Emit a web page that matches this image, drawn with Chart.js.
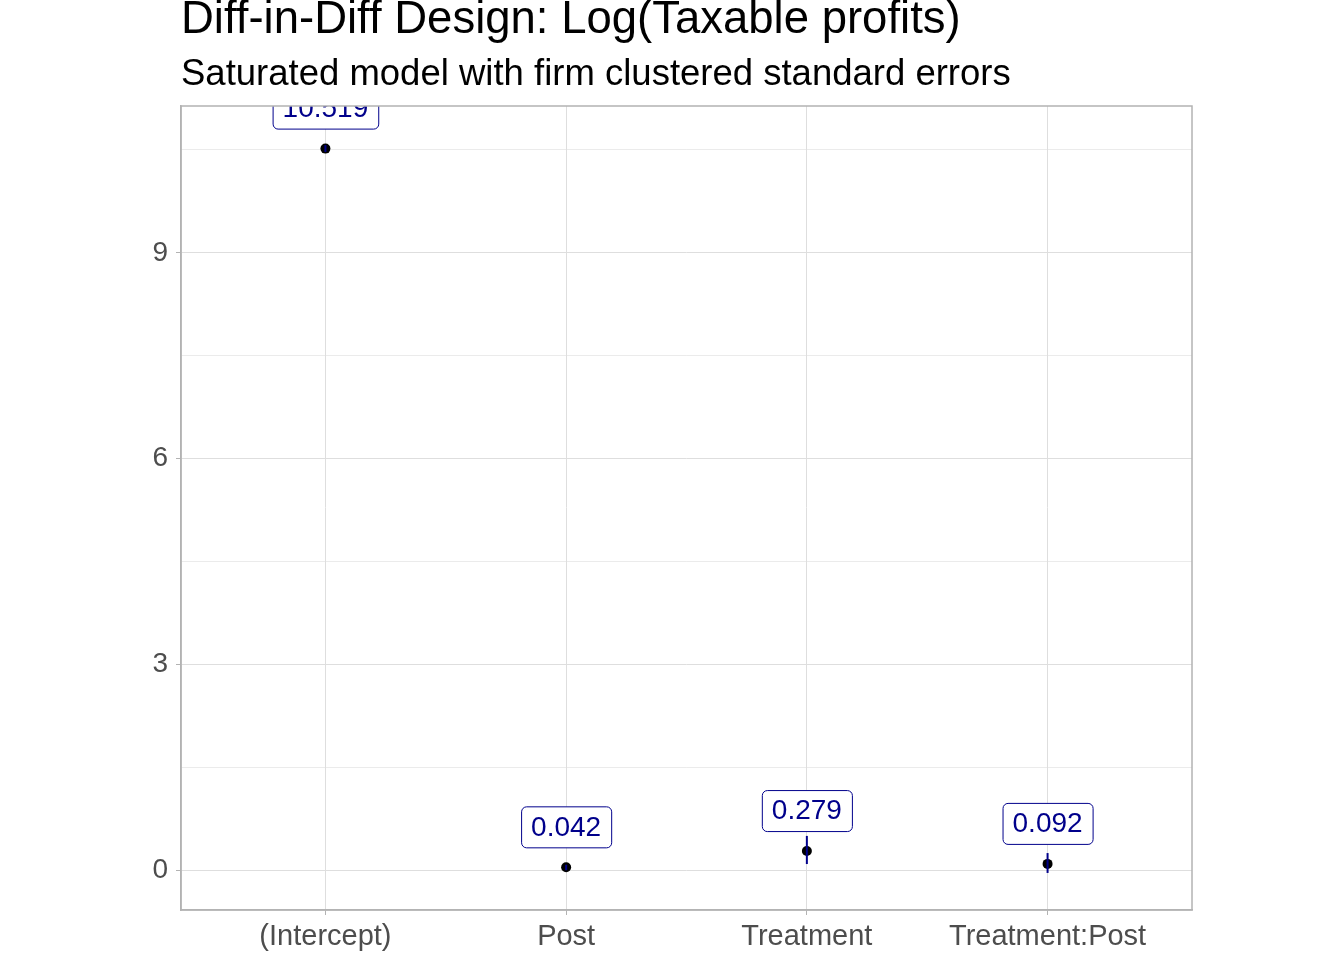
<!DOCTYPE html>
<html>
<head>
<meta charset="utf-8">
<script src="https://cdn.jsdelivr.net/npm/chart.js@4"></script>
<style>
  html, body { margin: 0; padding: 0; background: #fff; }
  #wrap { width: 1344px; height: 960px; }
</style>
</head>
<body>
<div id="wrap"><canvas id="coefChart"></canvas></div>
<script>
/* coefficient plot — saturated DiD model */

const terms     = ['(Intercept)', 'Post', 'Treatment', 'Treatment:Post'];
const estimates = [10.519, 0.042, 0.279, 0.092];
const ciLow     = [10.47, 0.00, 0.09, -0.04];
const ciHigh    = [10.57, 0.08, 0.50, 0.25];
const labels    = ['10.519', '0.042', '0.279', '0.092'];

const yMajor = [0, 3, 6, 9];
const yMinor = [1.5, 4.5, 7.5, 10.5];

const FONT   = '"Liberation Sans", Arial, sans-serif';
const NAVY   = '#00008B';
const BORDER = '#B3B3B3';
const GRID   = '#DEDEDE';

// one little two-point line per term for the error bars
const errorSets = terms.map((t, i) => ({
  type: 'line',
  data: [{ x: i, y: ciLow[i] }, { x: i, y: ciHigh[i] }],
  borderColor: NAVY,
  borderWidth: 2,
  pointRadius: 0,
  order: 0
}));

const pointSet = {
  type: 'scatter',
  data: terms.map((t, i) => ({ x: i, y: estimates[i] })),
  backgroundColor: '#000',
  borderColor: '#000',
  borderWidth: 0,
  pointRadius: 5,
  order: 1
};

const headerPlugin = {
  id: 'header',
  afterDraw(chart) {
    const { ctx, chartArea } = chart;
    ctx.save();
    ctx.fillStyle = '#000';
    ctx.textAlign = 'left';
    ctx.textBaseline = 'alphabetic';
    ctx.font = '45.5px ' + FONT;
    ctx.fillText('Diff-in-Diff Design: Log(Taxable profits)', chartArea.left, 33);
    ctx.font = '36.5px ' + FONT;
    ctx.fillText('Saturated model with firm clustered standard errors', chartArea.left, 85);
    ctx.restore();
  }
};

const labelPlugin = {
  id: 'valueLabels',
  afterDatasetsDraw(chart) {
    const { ctx, chartArea, scales } = chart;
    ctx.save();
    ctx.beginPath();
    ctx.rect(chartArea.left, chartArea.top, chartArea.right - chartArea.left, chartArea.bottom - chartArea.top);
    ctx.clip();
    ctx.font = '28px ' + FONT;
    ctx.textAlign = 'center';
    ctx.textBaseline = 'middle';
    labels.forEach((txt, i) => {
      const px = scales.x.getPixelForValue(i);
      const py = scales.y.getPixelForValue(estimates[i]);
      const w = ctx.measureText(txt).width + 20;
      const h = 41;
      const bx = px - w / 2, by = py - 20 - h;
      ctx.beginPath();
      ctx.roundRect(bx + 0.5, by + 0.5, w, h, 5);
      ctx.fillStyle = '#fff';
      ctx.fill();
      ctx.strokeStyle = NAVY;
      ctx.lineWidth = 1;
      ctx.stroke();
      ctx.fillStyle = NAVY;
      ctx.fillText(txt, px, by + h / 2 + 1);
    });
    ctx.restore();

    // panel border
    ctx.save();
    ctx.strokeStyle = BORDER;
    ctx.lineWidth = 1.5;
    ctx.strokeRect(chartArea.left, chartArea.top, chartArea.right - chartArea.left, chartArea.bottom - chartArea.top);
    ctx.restore();
  }
};

new Chart(document.getElementById('coefChart'), {
  data: { datasets: [...errorSets, pointSet] },
  options: {
    responsive: true,
    maintainAspectRatio: false,
    animation: false,
    layout: { padding: { top: 106, right: 152, left: 0, bottom: 0 } },
    plugins: { legend: { display: false }, tooltip: { enabled: false }, title: { display: false } },
    scales: {
      x: {
        type: 'linear',
        min: -0.6,
        max: 3.6,
        afterBuildTicks: s => { s.ticks = terms.map((t, i) => ({ value: i })); },
        afterFit: s => { s.height = 50; },
        ticks: {
          callback: v => terms[v],
          color: '#4D4D4D',
          font: { family: FONT, size: 29 },
          padding: 5,
          maxRotation: 0,
          autoSkip: false
        },
        grid: { color: GRID, lineWidth: 1, tickColor: BORDER, tickLength: 5 },
        border: { color: BORDER, width: 1.5 }
      },
      y: {
        type: 'linear',
        min: -0.58,
        max: 11.14,
        afterBuildTicks: s => { s.ticks = [...yMajor, ...yMinor].sort((a, b) => a - b).map(v => ({ value: v })); },
        afterFit: s => { s.width = 181; },
        ticks: {
          callback: v => (yMajor.includes(v) ? String(v) : ''),
          color: '#4D4D4D',
          font: { family: FONT, size: 28 },
          padding: 8
        },
        grid: {
          color: GRID,
          lineWidth: c => (c.tick && yMajor.includes(c.tick.value) ? 1 : 0.6),
          tickColor: c => (c.tick && yMajor.includes(c.tick.value) ? BORDER : 'rgba(0,0,0,0)'),
          tickLength: 5
        },
        border: { color: BORDER, width: 1.5 }
      }
    }
  },
  plugins: [headerPlugin, labelPlugin]
});
</script>
</body>
</html>
